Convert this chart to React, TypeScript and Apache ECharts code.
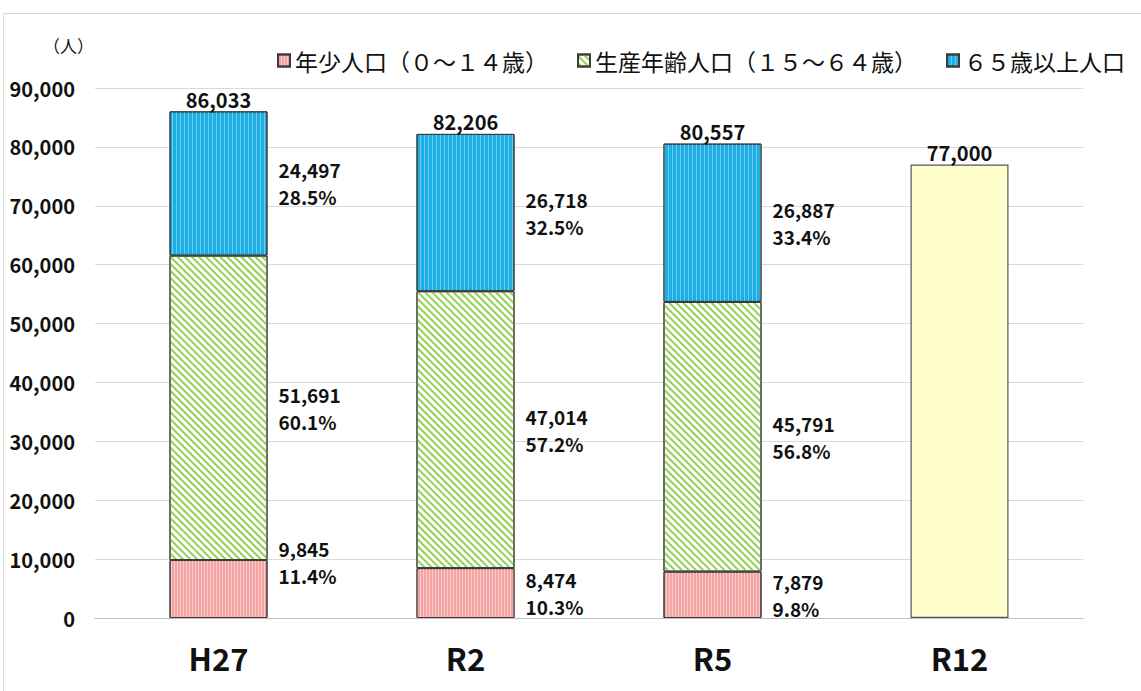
import React, { useEffect, useRef } from "react";
import * as echarts from "echarts";

const categories = ["H27", "R2", "R5", "R12"];
const youth = [9845, 8474, 7879, null];
const working = [51691, 47014, 45791, null];
const elderly = [24497, 26718, 26887, null];
const projection = [null, null, null, 77000];
const totals = [86033, 82206, 80557, 77000];
const youthPct = ["11.4%", "10.3%", "9.8%", ""];
const workingPct = ["60.1%", "57.2%", "56.8%", ""];
const elderlyPct = ["28.5%", "32.5%", "33.4%", ""];
const legendNames = ["年少人口（０～１４歳）", "生産年齢人口（１５～６４歳）", "６５歳以上人口"];

const FONT = "'Noto Sans CJK JP', 'Noto Sans', sans-serif";
const fmt = (v: number) => v.toLocaleString("en-US");

export default function App() {
  const ref = useRef<HTMLDivElement>(null);
  useEffect(() => {
    if (!ref.current) return;
    const chart = echarts.init(ref.current, undefined, { renderer: "svg" });
    const segLabel = (pcts: string[]) => ({
      show: true,
      position: "right" as const,
      distance: 11,
      align: "left" as const,
      fontFamily: FONT,
      fontSize: 19,
      fontWeight: "bold" as const,
      color: "#111",
      lineHeight: 27,
      formatter: (p: any) => `${fmt(p.value)}\n${pcts[p.dataIndex]}`,
    });
    const border = { borderColor: "#3a3a3a", borderWidth: 1 };
    chart.setOption({
      animation: false,
      backgroundColor: "#fff",
      textStyle: { fontFamily: FONT },
      graphic: [
        {
          type: "rect",
          shape: { x: 3.5, y: 13.5, width: 1160, height: 700 },
          style: { fill: "none", stroke: "#d9d9d9", lineWidth: 1 },
          silent: true,
        },
      ],
      legend: {
        data: legendNames,
        top: 44,
        left: 272,
        itemWidth: 12,
        itemHeight: 12,
        itemGap: 29,
        icon: "rect",
        textStyle: { fontFamily: FONT, fontSize: 23, color: "#111" },
      },
      grid: { left: 95, right: 58, top: 88, bottom: 73, containLabel: false },
      xAxis: {
        type: "category",
        data: categories,
        axisTick: { show: false },
        axisLine: { lineStyle: { color: "#bfbfbf" } },
        axisLabel: {
          fontFamily: FONT,
          fontSize: 31,
          fontWeight: "bold",
          color: "#111",
          margin: 24,
        },
      },
      yAxis: {
        type: "value",
        min: 0,
        max: 90000,
        interval: 10000,
        name: "（人）",
        nameLocation: "end",
        nameGap: 34,
        nameTextStyle: { fontFamily: FONT, fontSize: 17, color: "#111", align: "right", padding: [0, 1, 0, 0] },
        axisLine: { show: false },
        axisTick: { show: false },
        splitLine: { lineStyle: { color: "#d9d9d9" } },
        axisLabel: {
          fontFamily: FONT,
          fontSize: 20,
          fontWeight: "bold",
          color: "#111",
          margin: 20,
          formatter: (v: number) => fmt(v),
        },
      },
      series: [
        {
          name: legendNames[0],
          type: "bar",
          stack: "a",
          barWidth: 98,
          data: youth.map((v, i) =>
            i === 0 ? { value: v, label: { offset: [0, -27] } } : v === null ? "-" : v
          ),
          itemStyle: {
            color: "#F4A2A2",
            ...border,
            decal: {
              symbol: "rect",
              symbolSize: 1,
              color: "rgba(255,255,255,0.45)",
              dashArrayX: [1, 2],
              dashArrayY: [1, 0],
            },
          },
          label: segLabel(youthPct),
        },
        {
          name: legendNames[1],
          type: "bar",
          stack: "a",
          data: working.map((v) => (v === null ? "-" : v)),
          itemStyle: {
            color: "#ffffff",
            ...border,
            decal: {
              symbol: "rect",
              symbolSize: 1,
              color: "#92D050",
              dashArrayX: [1, 0],
              dashArrayY: [2, 3],
              rotation: Math.PI / 4,
            },
          },
          label: segLabel(workingPct),
        },
        {
          name: legendNames[2],
          type: "bar",
          stack: "a",
          data: elderly.map((v) => (v === null ? "-" : v)),
          itemStyle: {
            color: "#1DAEE5",
            ...border,
            decal: {
              symbol: "rect",
              symbolSize: 1,
              color: "rgba(255,255,255,0.35)",
              dashArrayX: [1, 3],
              dashArrayY: [1, 0],
            },
          },
          label: segLabel(elderlyPct),
        },
        {
          name: "将来推計",
          type: "bar",
          stack: "a",
          data: projection.map((v) => (v === null ? "-" : v)),
          itemStyle: { color: "#FFFFCC", borderColor: "#555", borderWidth: 1.2 },
        },
        {
          name: "合計",
          type: "bar",
          stack: "a",
          data: totals.map(() => 0),
          itemStyle: { color: "transparent" },
          label: {
            show: true,
            position: "top",
            distance: 2,
            fontFamily: FONT,
            fontSize: 20,
            fontWeight: "bold",
            color: "#111",
            formatter: (p: any) => fmt(totals[p.dataIndex]),
          },
        },
      ],
    });
    return () => chart.dispose();
  }, []);
  return (
    <div
      ref={ref}
      style={{ position: "fixed", left: 0, top: 0, width: 1141, height: 691 }}
    />
  );
}
